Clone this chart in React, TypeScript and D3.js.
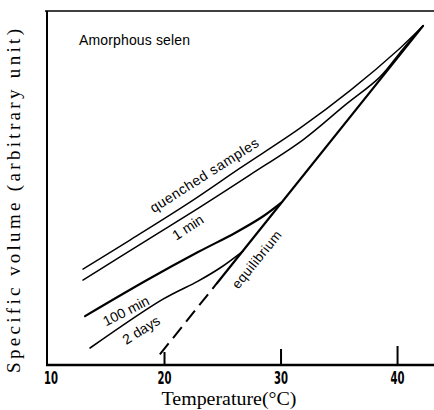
import * as d3 from "d3";

// temperature (°C) / specific volume (arbitrary unit, 0..100)
const tempTicks = [10, 20, 30, 40];

const quenchedT = [13.0, 17.04, 22.19, 26.48, 31.63, 35.92, 40.21, 42.19];
const quenchedV = [27.1, 35.3, 46.0, 55.6, 66.9, 77.5, 89.5, 95.8];

const oneMinT = [13.0, 18.5, 23.05, 27.34, 31.89, 35.49, 38.5, 40.47, 42.19];
const oneMinV = [24.0, 35.3, 44.6, 53.7, 63.6, 73.4, 81.4, 89.3, 95.8];

const hundredMinT = [13.18, 18.5, 22.88, 26.05, 28.37, 30.0];
const hundredMinV = [13.8, 24.0, 31.9, 37.3, 41.8, 45.8];

const twoDaysT = [13.61, 19.87, 22.88, 24.76, 26.74];
const twoDaysV = [4.8, 18.6, 23.7, 27.4, 32.2];

// equilibrium: dashed (extrapolated) below 24.5 °C, solid above
const equilibriumT = [19.6, 24.5, 42.19];
const equilibriumV = [3.0, 23.1, 95.8];

type Pt = [number, number];
const zip = (t: number[], v: number[]): Pt[] => t.map((d, i) => [d, v[i]]);

const W = 434;
const H = 410;

const x = d3.scaleLinear().domain([10, 43.3]).range([48, 436]);
const y = d3.scaleLinear().domain([0, 100]).range([365, 11]);

const line = d3
  .line<Pt>()
  .x((d) => x(d[0]))
  .y((d) => y(d[1]))
  .curve(d3.curveCatmullRom.alpha(0.5));

const straight = d3
  .line<Pt>()
  .x((d) => x(d[0]))
  .y((d) => y(d[1]));

const sans = "'Liberation Sans', Arial, sans-serif";
const serif = "'Liberation Serif', 'Times New Roman', serif";
const narrow =
  "'Liberation Sans Narrow', 'Arial Narrow', 'DejaVu Sans Condensed', sans-serif";

const CurveLabel = ({
  t,
  v,
  angle,
  text,
  len,
  size = 14,
}: {
  t: number;
  v: number;
  angle: number;
  text: string;
  len?: number;
  size?: number;
}) => (
  <text
    transform={`translate(${x(t)},${y(v)}) rotate(${angle})`}
    textAnchor="middle"
    dy="0.35em"
    fontFamily={sans}
    fontSize={size}
    textLength={len}
    lengthAdjust={len ? "spacing" : undefined}
  >
    {text}
  </text>
);

export default function App() {
  const eq = zip(equilibriumT, equilibriumV);
  return (
    <svg
      width={W}
      height={H}
      style={{ position: "absolute", left: 0, top: 0, background: "#fff" }}
    >
      {/* frame: left, top and bottom */}
      <line x1={47} x2={47} y1={11} y2={365} stroke="#000" strokeWidth={2} />
      <line x1={45} x2={434} y1={11} y2={11} stroke="#000" strokeWidth={1.5} />
      <line x1={46} x2={434} y1={365} y2={365} stroke="#000" strokeWidth={2.4} />

      {/* inward ticks */}
      {tempTicks.slice(1).map((t, i) => (
        <line
          key={t}
          x1={x(t)}
          x2={x(t)}
          y1={365}
          y2={365 - 13 - i * 3}
          stroke="#000"
          strokeWidth={2}
        />
      ))}
      {tempTicks.map((t) => (
        <text
          key={t}
          x={x(t) + (t === 10 ? 3 : 0)}
          y={384}
          textAnchor="middle"
          fontFamily={narrow}
          fontWeight="bold"
          fontSize={17}
          textLength={14}
          lengthAdjust="spacingAndGlyphs"
        >
          {t}
        </text>
      ))}

      <text
        x={229}
        y={405}
        textAnchor="middle"
        fontFamily={serif}
        fontSize={18}
        textLength={135}
        lengthAdjust="spacingAndGlyphs"
      >
        Temperature(°C)
      </text>
      <text
        transform={`translate(20,201) rotate(-90)`}
        textAnchor="middle"
        fontFamily={serif}
        fontSize={19}
        textLength={344}
        lengthAdjust="spacing"
      >
        Specific volume (arbitrary unit)
      </text>

      <text x={79} y={45} fontFamily={sans} fontSize={14} textLength={111}>
        Amorphous selen
      </text>

      {/* curves */}
      <g fill="none" stroke="#000" strokeLinecap="round">
        <path d={line(zip(quenchedT, quenchedV)) || ""} strokeWidth={1.4} />
        <path d={line(zip(oneMinT, oneMinV)) || ""} strokeWidth={1.5} />
        <path d={line(zip(hundredMinT, hundredMinV)) || ""} strokeWidth={2.2} />
        <path d={line(zip(twoDaysT, twoDaysV)) || ""} strokeWidth={1.6} />
        <path
          d={straight(eq.slice(0, 2)) || ""}
          strokeWidth={2}
          strokeDasharray="14 7"
          strokeLinecap="butt"
        />
        <path d={straight(eq.slice(1)) || ""} strokeWidth={2.2} />
      </g>

      {/* curve labels */}
      <CurveLabel t={23.4} v={53.6} angle={-32.5} text="quenched samples" len={126} />
      <CurveLabel t={22.0} v={38.9} angle={-33} text="1 min" size={14} />
      <CurveLabel t={16.7} v={15.3} angle={-27} text="100 min" size={14} />
      <CurveLabel t={18.0} v={9.9} angle={-32} text="2 days" size={14} />
      <CurveLabel t={27.9} v={29.8} angle={-51} text="equilibrium" len={70} size={13.5} />
    </svg>
  );
}
